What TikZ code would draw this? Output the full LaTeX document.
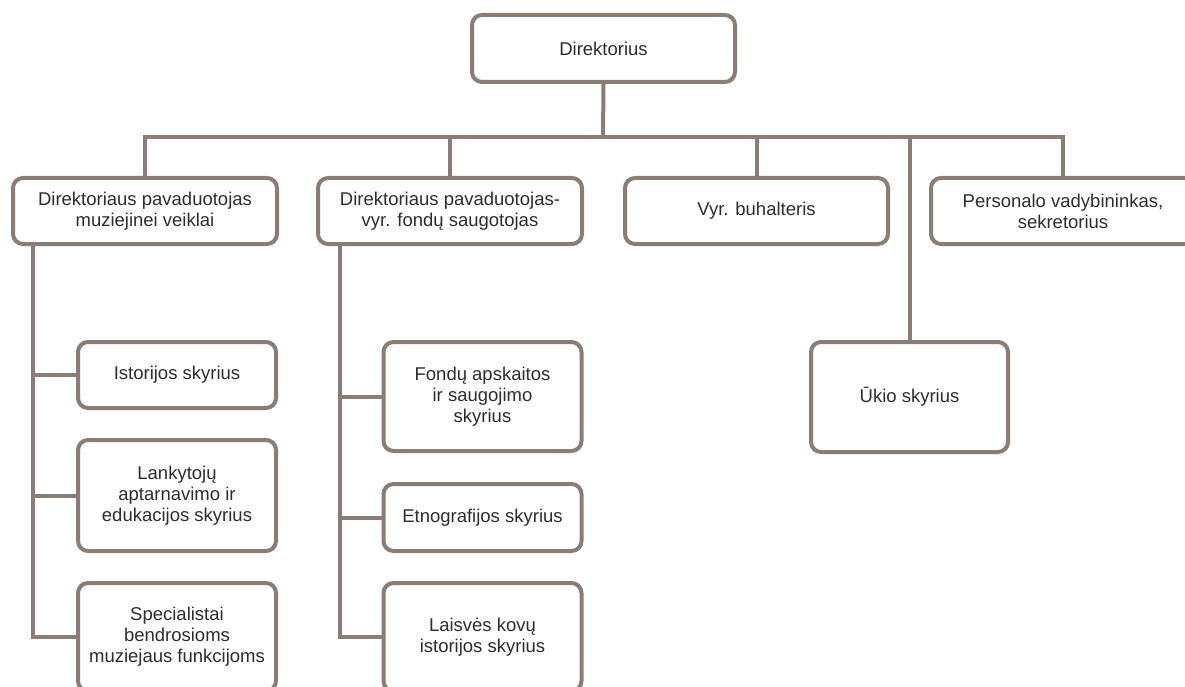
\documentclass[tikz,border=0pt]{standalone}
\usepackage{fontspec}
\setmainfont{Liberation Sans}
\definecolor{linebrown}{RGB}{138,125,117}
\definecolor{textgray}{RGB}{45,45,45}
\begin{document}
\begin{tikzpicture}
  [x=1pt, y=-1pt,
  unit/.style={draw=linebrown, line width=4pt, fill=white, rounded corners=10pt,
    align=center, inner sep=2pt, text=textgray,
    font=\fontsize{18.5}{21}\selectfont},
  link/.style={draw=linebrown, line width=4pt}]
  \def \wide {264}  % width of the second level boxes
  \def \small {198} % width of the department boxes
  \useasboundingbox (0,0) rectangle (1185,687);

  % top and second level
  \node[unit, minimum width=263, minimum height=67] (dir) at (603.5,48.5) {Direktorius};
  \node[unit, minimum width=\wide, minimum height=66] (pav1) at (145,211) {Direktoriaus pavaduotojas\\muziejinei veiklai};
  \node[unit, minimum width=\wide, minimum height=66] (pav2) at (450,211) {Direktoriaus pavaduotojas-\\vyr. fondų saugotojas};
  \node[unit, minimum width=263, minimum height=66] (buh) at (756.5,211) {Vyr. buhalteris};
  \node[unit, minimum width=\wide, minimum height=66] (pers) at (1063,211) {Personalo vadybininkas,\\sekretorius};
  \node[unit, minimum width=197, minimum height=110] (ukio) at (909.5,397) {Ūkio skyrius};

  % departments
  \node[unit, minimum width=\small, minimum height=66] (ist) at (177,375) {Istorijos skyrius};
  \node[unit, minimum width=\small, minimum height=111] (lank) at (177,495.5) {Lankytojų\\aptarnavimo ir\\edukacijos skyrius};
  \node[unit, minimum width=\small, minimum height=108] (spec) at (177,637) {Specialistai\\bendrosioms\\muziejaus funkcijoms};
  \node[unit, minimum width=\small, minimum height=109] (fond) at (482.5,396.5) {Fondų apskaitos\\ir saugojimo\\skyrius};
  \node[unit, minimum width=\small, minimum height=67] (etno) at (482.5,517.5) {Etnografijos skyrius};
  \node[unit, minimum width=\small, minimum height=108] (lais) at (482.5,637) {Laisvės kovų\\istorijos skyrius};

  % connectors
  \coordinate (bus) at (603,137);
  \draw[link] (dir.south) -- (bus);
  \draw[link] (pav1.north) |- (bus -| pers.north) -- (pers.north);
  \foreach \n in {pav2,buh,ukio}
    \draw[link] (\n.north) -- (\n.north |- bus);

  \coordinate (trunkA) at ([xshift=22pt]pav1.south west);
  \draw[link] (trunkA) |- (spec.west);
  \foreach \n in {ist,lank}
    \draw[link] (trunkA |- \n.west) -- (\n.west);

  \coordinate (trunkB) at ([xshift=24pt]pav2.south west);
  \draw[link] (trunkB) |- (lais.west);
  \foreach \n in {fond,etno}
    \draw[link] (trunkB |- \n.west) -- (\n.west);
\end{tikzpicture}
\end{document}
